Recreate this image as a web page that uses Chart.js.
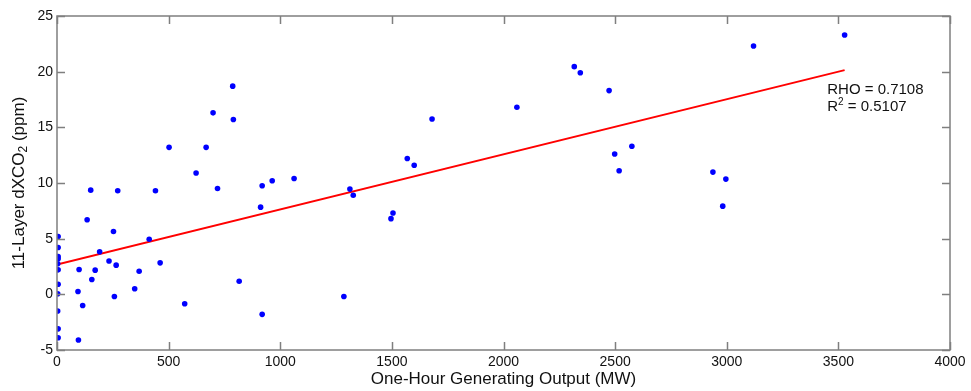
<!DOCTYPE html>
<html>
<head>
<meta charset="utf-8">
<script src="https://cdn.jsdelivr.net/npm/chart.js@4"></script>
<style>
  html, body { margin: 0; padding: 0; background: #fff; }
  #wrap { width: 971px; height: 391px; }
</style>
</head>
<body>
<div id="wrap"><canvas id="co2Chart" width="971" height="391"></canvas></div>
<script>
// generating output (MW) vs 11-layer dXCO2 (ppm)
const outputMW = [
  5, 5, 5, 5, 3, 5, 5, 3, 3, 5, 5,
  151, 272, 441, 502, 623, 668, 699, 719, 787, 790, 919, 964, 1062,
  135, 253, 413, 191, 233, 462, 99, 171, 265, 368, 156, 348, 94, 257, 115, 96, 572,
  912, 816, 919,
  1312, 1327, 1569, 1600, 1680, 2060, 2317, 2344, 2473, 2498, 2575, 2518,
  1496, 1505, 1285,
  3120, 3528, 2938, 2996, 2982
];
const dxco2 = [
  5.2, 4.2, 3.4, 3.2, 2.75, 2.2, 0.9, 0.05, -1.5, -3.1, -3.9,
  9.36, 9.3, 9.3, 13.2, 10.9, 13.2, 16.3, 9.5, 18.7, 15.7, 9.75, 10.2, 10.4,
  6.7, 5.65, 4.95, 3.82, 3.0, 2.83, 2.23, 2.17, 2.62, 2.08, 1.33, 0.5, 0.25, -0.2, -1.0, -4.1, -0.85,
  7.83, 1.18, -1.8,
  9.45, 8.9, 12.2, 11.6, 15.75, 16.8, 20.45, 19.9, 18.3, 12.6, 13.3, 11.1,
  6.8, 7.3, -0.2,
  22.3, 23.3, 10.98, 10.35, 7.92
];

// least-squares fit endpoints
const fitX = [0, 3528];
const fitY = [2.68, 20.14];

const xTicks = [0, 500, 1000, 1500, 2000, 2500, 3000, 3500, 4000];
const yTicks = [-5, 0, 5, 10, 15, 20, 25];

const rhoText = 'RHO = 0.7108';
const r2Value = ' = 0.5107';

const FONT = '"Liberation Sans", Arial, sans-serif';
const AXIS_GREY = '#7f7f7f';

// draw a run of [text, font, yOffset] pieces starting at x
function drawRuns(ctx, parts, x, y) {
  parts.forEach(p => {
    ctx.font = p[1];
    ctx.fillText(p[0], x, y + p[2]);
    x += ctx.measureText(p[0]).width;
  });
}

// box with inward tick marks on all four sides, like a matlab axes
const boxPlugin = {
  id: 'box',
  afterDraw(chart) {
    const { ctx, chartArea: a, scales } = chart;
    const len = 8;
    ctx.save();
    ctx.strokeStyle = AXIS_GREY;
    ctx.lineWidth = 1.5;
    ctx.strokeRect(a.left, a.top, a.right - a.left, a.bottom - a.top);
    ctx.beginPath();
    xTicks.forEach(v => {
      const px = Math.round(scales.x.getPixelForValue(v)) + 0.5;
      ctx.moveTo(px, a.bottom); ctx.lineTo(px, a.bottom - len);
      ctx.moveTo(px, a.top); ctx.lineTo(px, a.top + len);
    });
    yTicks.forEach(v => {
      const py = Math.round(scales.y.getPixelForValue(v)) + 0.5;
      ctx.moveTo(a.left, py); ctx.lineTo(a.left + len, py);
      ctx.moveTo(a.right, py); ctx.lineTo(a.right - len, py);
    });
    ctx.stroke();

    // y axis title with subscript
    ctx.fillStyle = '#111';
    ctx.translate(19, (a.top + a.bottom) / 2);
    ctx.rotate(-Math.PI / 2);
    ctx.textBaseline = 'middle';
    const big = '17px ' + FONT, small = '12px ' + FONT;
    const parts = [['11-Layer dXCO', big, 0], ['2', small, 5], [' (ppm)', big, 0]];
    let total = 0;
    parts.forEach(p => { ctx.font = p[1]; total += ctx.measureText(p[0]).width; });
    drawRuns(ctx, parts, -total / 2, 0);
    ctx.restore();

    // correlation stats
    ctx.save();
    ctx.fillStyle = '#111';
    ctx.textBaseline = 'middle';
    const tx = scales.x.getPixelForValue(3450);
    const f = '15px ' + FONT;
    drawRuns(ctx, [[rhoText, f, 0]], tx, scales.y.getPixelForValue(18.37));
    drawRuns(ctx, [['R', f, 0], ['2', '10px ' + FONT, -5], [r2Value, f, 0]],
      tx, scales.y.getPixelForValue(16.8));
    ctx.restore();
  }
};

new Chart(document.getElementById('co2Chart'), {
  type: 'scatter',
  data: {
    datasets: [
      {
        label: 'dXCO2',
        data: outputMW.map((v, i) => ({ x: v, y: dxco2[i] })),
        backgroundColor: '#0000ff',
        borderColor: '#0000ff',
        pointRadius: 2.8,
        borderWidth: 0
      },
      {
        label: 'fit',
        type: 'line',
        data: fitX.map((v, i) => ({ x: v, y: fitY[i] })),
        borderColor: '#ff0000',
        borderWidth: 2,
        pointRadius: 0,
        fill: false
      }
    ]
  },
  options: {
    responsive: false,
    animation: false,
    layout: { padding: { left: 0, right: 21, top: 16, bottom: 0 } },
    plugins: {
      legend: { display: false },
      tooltip: { enabled: false }
    },
    scales: {
      x: {
        type: 'linear',
        min: 0,
        max: 4000,
        grid: { display: false, drawTicks: false },
        border: { display: false },
        afterFit(scale) { scale.height = 41; },
        ticks: {
          stepSize: 500,
          padding: 4,
          color: '#111',
          font: { family: FONT, size: 14 },
          callback: v => String(v)
        },
        title: {
          display: true,
          text: 'One-Hour Generating Output (MW)',
          color: '#111',
          padding: { top: 0, bottom: 1 },
          font: { family: FONT, size: 17 }
        }
      },
      y: {
        min: -5,
        max: 25,
        grid: { display: false, drawTicks: false },
        border: { display: false },
        afterFit(scale) { scale.width = 57; },
        ticks: {
          stepSize: 5,
          padding: 4,
          color: '#111',
          font: { family: FONT, size: 14 }
        }
      }
    }
  },
  plugins: [boxPlugin]
});
</script>
</body>
</html>
